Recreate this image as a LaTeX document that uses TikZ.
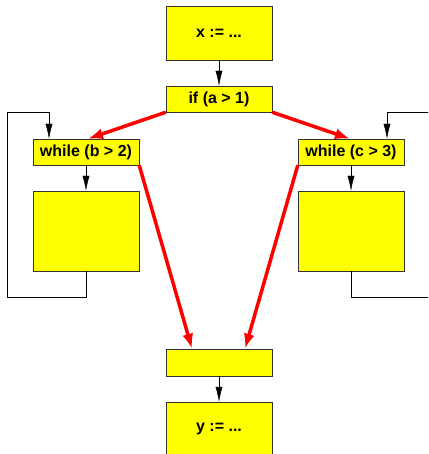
\documentclass[tikz,border=0pt]{standalone}
\usepackage{fontspec}
\setmainfont{Liberation Sans}
\usepackage{xcolor}
\definecolor{boxyellow}{RGB}{255,255,0}
\definecolor{edgered}{RGB}{255,0,0}
\usepackage{tikz}
\usetikzlibrary{positioning, arrows.meta}

\begin{document}
\begin{tikzpicture}[
    x=1pt, y=-1pt,
    font=\fontsize{16}{19}\selectfont\bfseries,
    blk/.style={draw=black!80, fill=boxyellow, minimum width=106pt, minimum height=26pt, inner sep=0pt, align=center},
    arr/.style={-{Latex[length=15pt, width=7pt]}, black},
    redarr/.style={-{Latex[length=15pt, width=11pt]}, edgered, line width=3.5pt}]
    \useasboundingbox (0,0) rectangle (428,454);
    \clip (0,0) rectangle (428,454);
    \node[blk, minimum height=54pt] (xs) at (219,33) {x := ...};
    \node[blk] (iff) at (219,99) {if (a > 1)};
    \node[blk] (wb) at (86,152) {while (b > 2)};
    \node[blk] (wc) at (351,152) {while (c > 3)};
    \node[blk, minimum height=80pt] (bb) at (86,231) {};
    \node[blk, minimum height=80pt] (bc) at (351,231) {};
    \node[blk, minimum height=27pt] (join) at (219,362.5) {};
    \node[blk, minimum height=54pt] (ys) at (219,429) {y := ...};
    % loop back edges
    \coordinate (wbin) at ([xshift=-37pt]wb.north);
    \coordinate (wcin) at ([xshift=36pt]wc.north);
    \coordinate (lb) at (7,297);
    \coordinate (rb) at (440,297);
    \coordinate (rt) at (440,112);
    \draw[arr] (xs) -- (iff);
    \draw[arr] (wb) -- (bb);
    \draw[arr] (wc) -- (bc);
    \draw[arr] (join) -- (ys);
    \draw[arr] (bb.south) |- (lb) |- (iff.south -| wbin) -- (wbin);
    \draw (bc.south) |- (rb);
    \draw[arr] (rt) -| (wcin);
    % branches
    \draw[redarr] (iff.south west) -- ([xshift=2pt]wb.north);
    \draw[redarr] (iff.south east) -- ([xshift=-1pt]wc.north);
    \draw[redarr] (wb.south east) -- ([xshift=-27pt]join.north);
    \draw[redarr] (wc.south west) -- ([xshift=26pt]join.north);
\end{tikzpicture}
\end{document}
